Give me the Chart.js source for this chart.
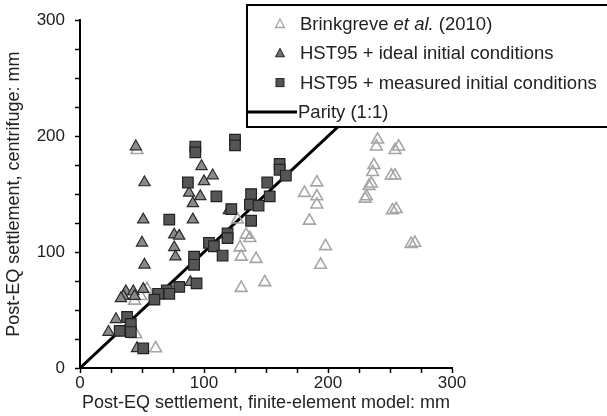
<!DOCTYPE html>
<html>
<head>
<meta charset="utf-8">
<style>
  html, body { margin: 0; padding: 0; background: #fff; }
  #wrap { width: 607px; height: 416px; position: relative; }
</style>
<script src="https://cdn.jsdelivr.net/npm/chart.js@4.4.1/dist/chart.umd.min.js"></script>
</head>
<body>
<div id="wrap"><canvas id="settlement"></canvas></div>
<script>
"use strict";

/* settlement pairs: [finite-element model, centrifuge] in mm */
var brinkgreve = [
    [46, 188], [54, 68], [49, 62], [44, 58], [45, 29], [61, 17],
    [127, 128], [129, 104], [130, 96], [134, 115], [137, 112], [142, 94],
    [130, 69], [149, 74], [181, 151], [191, 160], [191, 148], [191, 141],
    [185, 127], [198, 105], [194, 89], [240, 197], [239, 191], [257, 191],
    [254, 188], [237, 175], [236, 169], [235, 159], [233, 157], [231, 148],
    [230, 146], [251, 166], [254, 166], [252, 136], [255, 137], [267, 107],
    [270, 108]
];
var hstIdeal = [
    [45, 191], [52, 160], [51, 128], [50, 108], [52, 89], [37, 66],
    [35, 62], [43, 66], [44, 62], [51, 68], [33, 60], [29, 42], [23, 31],
    [46, 17], [88, 151], [91, 142], [91, 128], [98, 174], [100, 161],
    [97, 148], [107, 166], [76, 115], [80, 114], [76, 104], [77, 96],
    [120, 136], [89, 74]
];
var hstMeasured = [
    [93, 191], [93, 186], [125, 197], [125, 192], [87, 160], [72, 128],
    [110, 148], [122, 137], [138, 150], [137, 141], [144, 140], [138, 127],
    [151, 160], [153, 148], [161, 176], [161, 171], [166, 166], [119, 116],
    [119, 112], [104, 108], [108, 105], [115, 97], [92, 96], [92, 89],
    [94, 73], [80, 70], [70, 67], [72, 64], [63, 64], [60, 59], [38, 44],
    [41, 38], [32, 32], [41, 31], [51, 17]
];
var parity = [[0, 0], [300, 300]];
var axisTicks = [0, 100, 200, 300];

var legendRows = [
    { parts: [['Brinkgreve ', ''], ['et al.', 'italic '], [' (2010)', '']], mark: 'hollow' },
    { parts: [['HST95 + ideal initial conditions', '']], mark: 'triangle' },
    { parts: [['HST95 + measured initial conditions', '']], mark: 'square' },
    { parts: [['Parity (1:1)', '']], mark: 'line' }
];

var fontFamily = '"Liberation Sans", Arial, sans-serif';

function toXY(arr) {
    return arr.map(function (p) { return { x: p[0], y: p[1] }; });
}

/* boxed legend drawn over the top right of the plot */
var boxLegend = {
    id: 'boxLegend',
    afterDatasetsDraw: function (chart) {
        var ctx = chart.ctx;
        ctx.save();
        ctx.fillStyle = '#fff';
        ctx.strokeStyle = '#000';
        ctx.lineWidth = 2;
        ctx.fillRect(247, 5, 380, 122);
        ctx.strokeRect(247, 5, 380, 122);

        legendRows.forEach(function (row, i) {
            var y = 24 + i * 29.3;
            var mx = 280;
            ctx.beginPath();
            if (row.mark === 'hollow' || row.mark === 'triangle') {
                ctx.moveTo(mx, y - 5);
                ctx.lineTo(mx + 4.5, y + 3.5);
                ctx.lineTo(mx - 4.5, y + 3.5);
                ctx.closePath();
                if (row.mark === 'hollow') {
                    ctx.strokeStyle = '#a6a6a6';
                    ctx.lineWidth = 1.3;
                    ctx.stroke();
                } else {
                    ctx.fillStyle = '#6e6e6e';
                    ctx.fill();
                    ctx.strokeStyle = '#222';
                    ctx.lineWidth = 1;
                    ctx.stroke();
                }
            } else if (row.mark === 'square') {
                ctx.fillStyle = '#555';
                ctx.fillRect(mx - 4, y - 4, 8, 8);
                ctx.strokeStyle = '#222';
                ctx.lineWidth = 1;
                ctx.strokeRect(mx - 4, y - 4, 8, 8);
            } else {
                ctx.strokeStyle = '#000';
                ctx.lineWidth = 3;
                ctx.moveTo(248, y);
                ctx.lineTo(297, y);
                ctx.stroke();
            }

            var tx = row.mark === 'line' ? 298 : 300;
            ctx.fillStyle = '#222';
            ctx.textBaseline = 'middle';
            ctx.textAlign = 'left';
            row.parts.forEach(function (part) {
                ctx.font = part[1] + '18.5px ' + fontFamily;
                ctx.fillText(part[0], tx, y + 1);
                tx += ctx.measureText(part[0]).width;
            });
        });
        ctx.restore();
    }
};

function axisOptions(title, isY) {
    return {
        type: 'linear',
        min: 0,
        max: 300,
        border: { display: true, color: '#000', width: 2 },
        grid: {
            display: true,
            drawOnChartArea: false,
            drawTicks: true,
            tickLength: 5,
            color: '#000',
            tickWidth: 1.5
        },
        ticks: {
            stepSize: 25,
            autoSkip: false,
            maxRotation: 0,
            color: '#222',
            font: { family: fontFamily, size: 17 },
            padding: isY ? 10 : 0,
            callback: function (v) {
                return axisTicks.indexOf(v) >= 0 ? String(v) : '';
            }
        },
        title: {
            display: true,
            text: title,
            color: '#222',
            font: { family: fontFamily, size: 18 },
            padding: isY ? { top: 3, bottom: 0 } : { top: 0, bottom: 2 }
        },
        afterFit: function (scale) {
            if (isY) {
                scale.width = 80;
            } else {
                scale.height = 48;
            }
        }
    };
}

var ctx = document.getElementById('settlement').getContext('2d');

var settlementConfig = {
    type: 'scatter',
    data: {
        datasets: [{
            label: 'HST95 + measured initial conditions',
            data: toXY(hstMeasured),
            pointStyle: 'rect',
            radius: 7.5,
            backgroundColor: '#555555',
            borderColor: '#222222',
            borderWidth: 1.2,
            order: 1
        },
        {
            label: 'HST95 + ideal initial conditions',
            data: toXY(hstIdeal),
            pointStyle: 'triangle',
            radius: 6.5,
            backgroundColor: '#8a8a8a',
            borderColor: '#2a2a2a',
            borderWidth: 1.2,
            order: 2
        },
        {
            label: 'Brinkgreve et al. (2010)',
            data: toXY(brinkgreve),
            pointStyle: 'triangle',
            radius: 6.8,
            backgroundColor: 'rgba(255, 255, 255, 0)',
            borderColor: '#a6a6a6',
            borderWidth: 1.6,
            order: 3
        },
        {
            type: 'line',
            label: 'Parity (1:1)',
            data: toXY(parity),
            borderColor: '#000',
            borderWidth: 3,
            pointRadius: 0,
            fill: false,
            tension: 0,
            order: 4
        }]
    },
    options: {
        responsive: true,
        maintainAspectRatio: false,
        animation: false,
        layout: {
            padding: { left: 0, top: 17, right: 155, bottom: 0 }
        },
        plugins: {
            legend: { display: false },
            tooltip: { enabled: false }
        },
        scales: {
            x: axisOptions('Post-EQ settlement, finite-element model: mm', false),
            y: axisOptions('Post-EQ settlement, centrifuge: mm', true)
        }
    },
    plugins: [boxLegend]
};

var settlementChart = new Chart(ctx, settlementConfig);
</script>
</body>
</html>
